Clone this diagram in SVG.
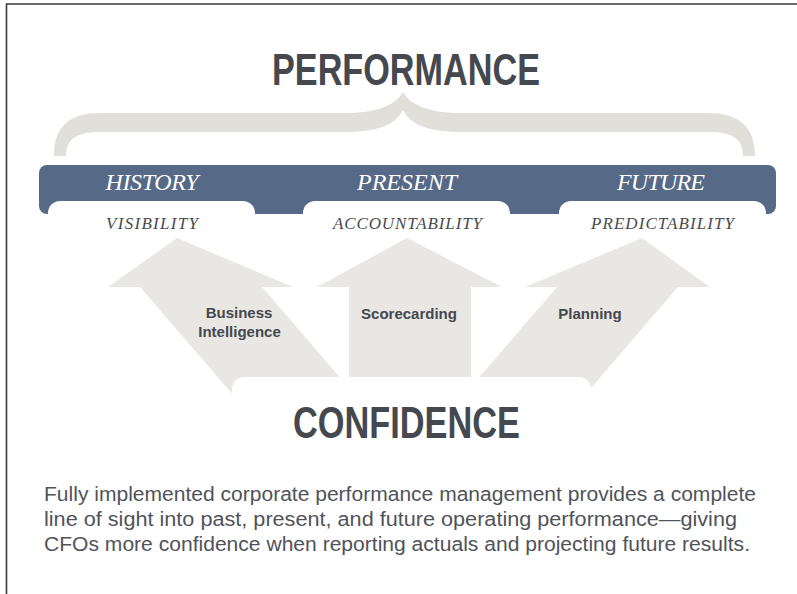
<svg xmlns="http://www.w3.org/2000/svg" width="797" height="594" viewBox="0 0 797 594">
<style>
.title{font-family:"Liberation Sans",Arial,sans-serif;font-weight:bold;font-size:45px;fill:#45484e;text-anchor:middle}
.era{font-family:"Liberation Serif","Times New Roman",serif;font-style:italic;font-size:24px;fill:#ffffff;text-anchor:middle}
.quality{font-family:"Liberation Serif","Times New Roman",serif;font-style:italic;font-size:17px;fill:#4a4b4f;text-anchor:middle}
.arrow{fill:#e8e7e3}
.lbl{font-family:"Liberation Sans",Arial,sans-serif;font-weight:bold;font-size:15px;fill:#45484e;text-anchor:middle}
.body{font-family:"Liberation Sans",Arial,sans-serif;font-size:20px;fill:#50535a}
.tab{fill:#ffffff}
</style>
<rect width="797" height="594" fill="#ffffff"/>
<path d="M6.5,594 V4 H797" fill="none" stroke="#3a3a3a" stroke-width="1.6"/>

<g id="performance">
<text class="title" x="406" y="85" textLength="268" lengthAdjust="spacingAndGlyphs">PERFORMANCE</text>
</g>

<g id="brace">
<path fill="#e0dfda" d="M54,156 C54,126 70,113 100,113 L345,113 C375,113 395,106 403,92 C411,106 431,113 461,113 L708,113 C738,113 755,126 755,156 L743,156 C743,137 730,132 708,132 L461,132 C431,132 411,126 403,110 C395,126 375,132 345,132 L100,132 C80,132 66,137 66,156 Z"/>
</g>

<g id="band">
<rect x="39" y="165" width="737" height="49" rx="8" fill="#566a87"/>
<rect class="tab" x="48" y="201" width="207" height="30" rx="12"/>
<rect class="tab" x="303" y="201" width="207" height="30" rx="12"/>
<rect class="tab" x="559" y="201" width="207" height="30" rx="12"/>
</g>

<g id="history">
<text class="era" x="152" y="190" textLength="93">HISTORY</text>
<text class="quality" x="152" y="229" textLength="92">VISIBILITY</text>
</g>
<g id="present">
<text class="era" x="407" y="190" textLength="100">PRESENT</text>
<text class="quality" x="407.5" y="229" textLength="149">ACCOUNTABILITY</text>
</g>
<g id="future">
<text class="era" x="661" y="190" textLength="88">FUTURE</text>
<text class="quality" x="662.5" y="229" textLength="143">PREDICTABILITY</text>
</g>

<g id="connectors">
<polygon id="arrow-bi" class="arrow" points="177,238 293,287 262,287 368,410 246,410 140,287 108,287"/>
<polygon id="arrow-sc" class="arrow" points="407,238 502,287 471,287 471,410 349,410 349,287 317,287"/>
<polygon id="arrow-pl" class="arrow" points="642,238 710,287 678,287 572,410 451,410 557,287 525,287"/>
</g>

<g id="business-intelligence">
<text class="lbl" x="239" y="318">Business</text>
<text class="lbl" x="239.5" y="337">Intelligence</text>
</g>
<g id="scorecarding">
<text class="lbl" x="409" y="319">Scorecarding</text>
</g>
<g id="planning">
<text class="lbl" x="590" y="319">Planning</text>
</g>

<g id="confidence">
<rect class="tab" x="232" y="377" width="359" height="80" rx="12"/>
<text class="title" x="406.5" y="438" textLength="227" lengthAdjust="spacingAndGlyphs">CONFIDENCE</text>
</g>

<g id="caption">
<text class="body" x="44" y="501" textLength="712" lengthAdjust="spacingAndGlyphs">Fully implemented corporate performance management provides a complete</text>
<text class="body" x="44" y="526" textLength="693" lengthAdjust="spacingAndGlyphs">line of sight into past, present, and future operating performance—giving</text>
<text class="body" x="44" y="551" textLength="706" lengthAdjust="spacingAndGlyphs">CFOs more confidence when reporting actuals and projecting future results.</text>
</g>
</svg>
